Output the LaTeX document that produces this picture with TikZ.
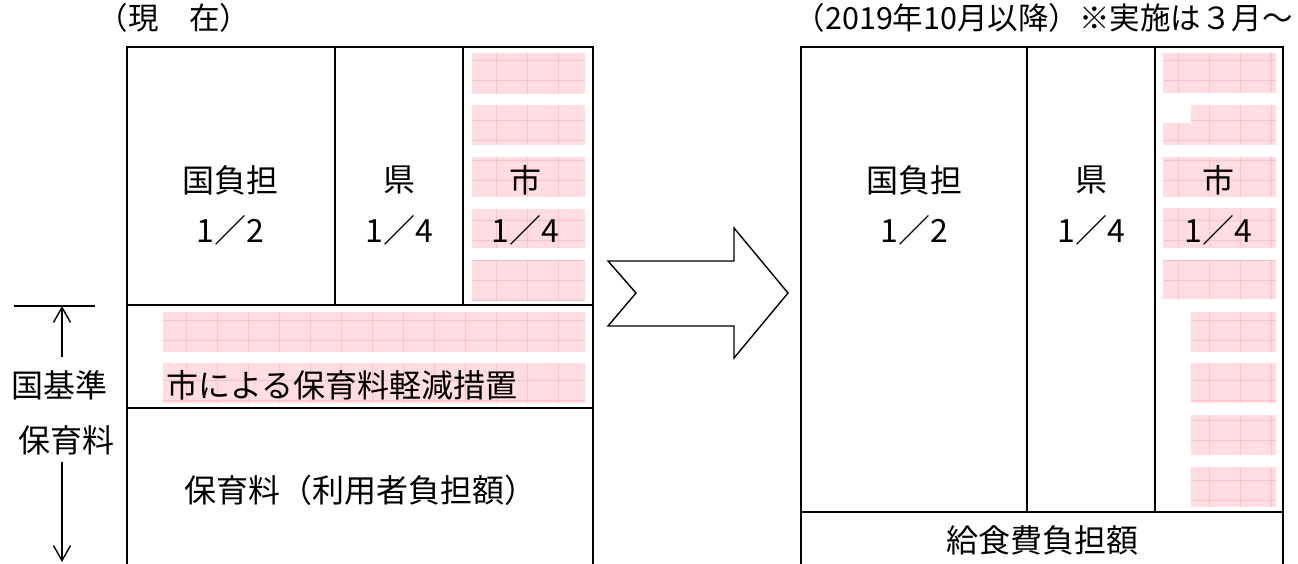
\documentclass[tikz,border=0pt]{standalone}
\usepackage{fontspec}
\setmainfont{Noto Sans CJK JP}
\usetikzlibrary{arrows.meta}
\definecolor{pinkfill}{HTML}{FFDDE2}
\definecolor{pinkline}{HTML}{FFC0CA}
\newcommand\pblock[4]{%
  \fill[pinkfill] (#1,#2) rectangle (#3,#4);
  \begin{scope}
    \clip (#1,#2) rectangle (#3,#4);
    \draw[pinkline, line width=0.5pt, xstep=31pt, ystep=20pt] (#1,#2) grid (#3,#4);
  \end{scope}}
\tikzset{
  frame/.style={line width=2.6pt, line cap=rect},
  lbl/.style={inner sep=0pt, font=\fontsize{32}{36}\selectfont},
  ttl/.style={inner sep=0pt, font=\fontsize{30.5}{36}\selectfont},
  dimarrow/.style={line width=1.4pt, -{Straight Barb[length=15pt,width=17pt,line width=1.4pt]}},
  bigarrow/.style={line width=1.4pt, fill=white, line join=miter}
}
\begin{document}
\begin{tikzpicture}[x=1pt, y=-1pt]
\useasboundingbox (0,0) rectangle (1298,564);
\fill[white] (0,0) rectangle (1298,564);

% ---- pink highlight blocks (left) ----
\pblock{472}{53}{585}{94}
\pblock{472}{105}{585}{145}
\pblock{472}{157}{585}{197}
\pblock{472}{209}{585}{248}
\pblock{472}{260}{585}{300}
\pblock{163}{312}{585}{352}
\pblock{163}{363}{585}{403}

% ---- pink highlight blocks (right) ----
\pblock{1163}{53}{1276}{93}
\pblock{1191}{105}{1276}{123}
\pblock{1163}{123}{1276}{145}
\pblock{1163}{157}{1276}{197}
\pblock{1163}{208}{1276}{248}
\pblock{1163}{260}{1276}{299}
\pblock{1191}{312}{1276}{352}
\pblock{1191}{363}{1276}{403}
\pblock{1191}{415}{1276}{455}
\pblock{1191}{467}{1276}{507}

% ---- left frame ----
\draw[frame] (127,564) -- (127,47) -- (593,47) -- (593,564);
\draw[frame] (335,47) -- (335,305);
\draw[frame] (463,47) -- (463,305);
\draw[frame] (127,305) -- (593,305);
\draw[frame] (127,408) -- (593,408);

% ---- right frame ----
\draw[frame] (801,564) -- (801,47) -- (1283,47) -- (1283,564);
\draw[frame] (1027,47) -- (1027,512);
\draw[frame] (1155,47) -- (1155,512);
\draw[frame] (801,512) -- (1283,512);

% ---- big arrow ----
\draw[bigarrow] (608,261) -- (734,261) -- (734,228) -- (788,293) -- (734,358) -- (734,326) -- (608,326) -- (636,293) -- cycle;

% ---- titles ----
\node[ttl] (tl) at (174,18) {（現　在）};
\node[ttl, anchor=east] (tr) at (1293,18) {（2019年10月以降）※実施は３月～};

% ---- left labels ----
\node[lbl] (kl) at (230,180) {国負担};
\node[lbl] (kl2) at (230,230) {1／2};
\node[lbl] (ken) at (399,180) {県};
\node[lbl] (ken2) at (399,230) {1／4};
\node[lbl] (shi) at (525,180) {市};
\node[lbl] (shi2) at (525,230) {1／4};
\node[lbl, anchor=west] (gen) at (166,385) {市による保育料軽減措置};
\node[lbl] (hoiku) at (360,490) {保育料（利用者負担額）};

% ---- right labels ----
\node[lbl] (kr) at (914,180) {国負担};
\node[lbl] (kr2) at (914,230) {1／2};
\node[lbl] (kenr) at (1091,180) {県};
\node[lbl] (kenr2) at (1091,230) {1／4};
\node[lbl] (shir) at (1218,180) {市};
\node[lbl] (shir2) at (1218,230) {1／4};
\node[lbl] (kyu) at (1042,540) {給食費負担額};

% ---- dimension annotation ----
\node[lbl] (kk) at (60,385) {国基準};
\node[lbl] (hr) at (66,440) {保育料};
\coordinate (tickL) at (14,306);
\coordinate (tickR) at (95,306);
\coordinate (top) at (62,306);
\coordinate (upStart) at (62,357);
\coordinate (dnStart) at (62,462);
\coordinate (bot) at (62,562);
\draw[line width=1.4pt] (tickL) -- (tickR);
\draw[dimarrow] (upStart) -- (top);
\draw[dimarrow] (dnStart) -- (bot);
\end{tikzpicture}
\end{document}
